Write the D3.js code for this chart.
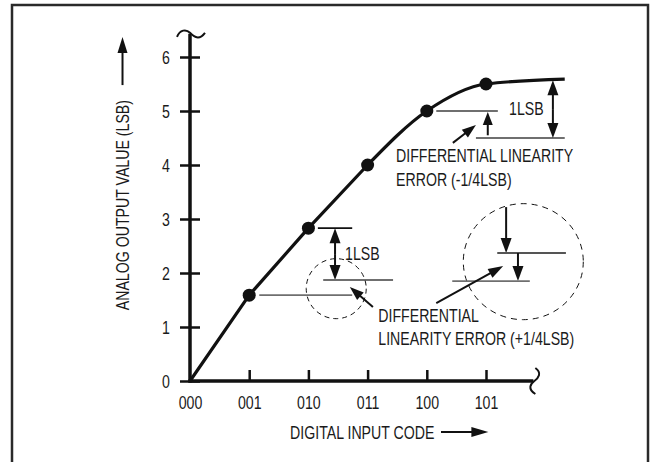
<!DOCTYPE html>
<html><head><meta charset="utf-8">
<script src="https://cdn.jsdelivr.net/npm/d3@7"></script>
<style>
html,body{margin:0;padding:0;background:#fff;}
svg text{font-family:"Liberation Sans",Arial,sans-serif;fill:#1a1a1a;}
</style></head>
<body>
<svg id="c" width="652" height="462"></svg>
<script>
// ---- data ----
const codes = ["000","001","010","011","100","101"];
const outputValues = [0, 1.59, 2.83, 4.0, 5.0, 5.5];
const tailPoint = [6.33, 5.59];
const yTicks = [0,1,2,3,4,5,6];
const xTitle = "DIGITAL INPUT CODE";
const yTitle = "ANALOG OUTPUT VALUE (LSB)";
const noteTop = ["DIFFERENTIAL LINEARITY", "ERROR (-1/4LSB)"];
const noteBottom = ["DIFFERENTIAL", "LINEARITY ERROR (+1/4LSB)"];
const lsbLabel = "1LSB";

const svg = d3.select("#c");
const x = d3.scaleLinear().domain([0,5]).range([190,486]);
const y = d3.scaleLinear().domain([0,6]).range([381,57]);
const FS = 19;
const SX = 0.745;
const ink = "#111";
const gray = "#6f6f6f";

// narrow text helper: place text at (px,py) with horizontal compression
function narrow(sel){
  sel.each(function(){
    const t = d3.select(this);
    const px = +t.attr("x")||0, py = +t.attr("y")||0;
    const prev = t.attr("transform")||"";
    t.attr("x",0).attr("y",0).attr("transform",`${prev} translate(${px},${py}) scale(${SX},1)`);
  });
}

// frame
svg.append("rect").attr("x",12).attr("y",5).attr("width",636).attr("height",470)
  .attr("fill","none").attr("stroke","#2a2a2a").attr("stroke-width",2.5);

// axes
const g = svg.append("g");
const axisTop = y(6.43), axisRight = x(5.8);
g.append("line").attr("x1",x(0)).attr("x2",x(0)).attr("y1",y(0)+1.5).attr("y2",axisTop)
  .attr("stroke",ink).attr("stroke-width",3.5);
g.append("line").attr("x1",x(0)-1.5).attr("x2",axisRight).attr("y1",y(0)).attr("y2",y(0))
  .attr("stroke",ink).attr("stroke-width",3.5);
g.append("path").attr("transform",`translate(${x(0)},${axisTop})`)
  .attr("d","M-13,3 C-10,-4 -4,-5 0,-1 S9,7 15,-1").attr("fill","none").attr("stroke",ink).attr("stroke-width",2);
g.append("path").attr("transform",`translate(${axisRight},${y(0)})`)
  .attr("d","M2,-13 C9,-8 5,-3 1,0 S-6,8 2,13").attr("fill","none").attr("stroke",ink).attr("stroke-width",2);

// y ticks (crossing)
const yAxis = d3.axisLeft(y).tickValues(yTicks).tickSize(0).tickPadding(20).tickFormat(d3.format("d"));
const ya = g.append("g").attr("transform",`translate(${x(0)},0)`).call(yAxis);
ya.select(".domain").remove();
ya.selectAll("text").attr("font-size",FS).style("font-family",null).attr("y",0).attr("dy","0.36em").call(narrow);
ya.selectAll(".tick").append("line").attr("x1",-10).attr("x2",10).attr("stroke",ink).attr("stroke-width",2.5);

// x ticks (above axis)
const xAxis = d3.axisBottom(x).tickValues(d3.range(codes.length)).tickSize(0).tickPadding(14)
  .tickFormat(i => codes[i]);
const xa = g.append("g").attr("transform",`translate(0,${y(0)})`).call(xAxis);
xa.select(".domain").remove();
xa.selectAll("text").attr("font-size",FS).style("font-family",null).call(narrow);
xa.selectAll(".tick").filter(d => d>0).append("line").attr("y1",0).attr("y2",-11).attr("stroke",ink).attr("stroke-width",2.5);

function arrow(sel, x1,y1,x2,y2, len, wid, sw, color){
  color = color || ink;
  const a = Math.atan2(y2-y1,x2-x1);
  const bx = x2 - len*Math.cos(a), by = y2 - len*Math.sin(a);
  sel.append("line").attr("x1",x1).attr("y1",y1).attr("x2",bx+Math.cos(a)).attr("y2",by+Math.sin(a))
    .attr("stroke",color).attr("stroke-width",sw||2);
  const px = -Math.sin(a)*wid/2, py = Math.cos(a)*wid/2;
  sel.append("path").attr("d",`M${x2},${y2}L${bx+px},${by+py}L${bx-px},${by-py}Z`).attr("fill",color);
}
function dbl(sel, x0, y1, y2, len, wid){
  const m = (y1+y2)/2;
  arrow(sel, x0, m, x0, y1, len, wid, 2);
  arrow(sel, x0, m, x0, y2, len, wid, 2);
}

// titles
svg.append("text").attr("x",x(1.69)).attr("y",y(0)+51).attr("dy","0.35em").attr("font-size",FS).text(xTitle).call(narrow);
arrow(svg, x(4.24), y(0)+51, x(5.04), y(0)+51, 17, 10, 2);
svg.append("text").attr("transform",`translate(${x(-1.14)+6.5},${y(1.31)}) rotate(-90)`)
  .attr("font-size",FS).text(yTitle).call(narrow);
arrow(svg, x(-1.14), y(5.48), x(-1.14), y(6.37), 16, 10, 2);

// curve: straight part then smooth shoulder
const pts = outputValues.map((v,i)=>[i,v]).concat([tailPoint]);
const lin = d3.line().x(d=>x(d[0])).y(d=>y(d[1]));
const smooth = d3.line().x(d=>x(d[0])).y(d=>y(d[1])).curve(d3.curveMonotoneX);
svg.append("path").attr("d",lin(pts.slice(0,4))).attr("fill","none").attr("stroke",ink).attr("stroke-width",3.2).attr("stroke-linejoin","round");
svg.append("path").attr("d",smooth(pts.slice(3))).attr("fill","none").attr("stroke",ink).attr("stroke-width",3.2);
svg.selectAll("circle.pt").data(outputValues.slice(1)).enter().append("circle")
  .attr("class","pt").attr("cx",(d,i)=>x(i+1)).attr("cy",d=>y(d)).attr("r",6.5).attr("fill",ink);

// ---- annotations ----
const an = svg.append("g");
function hl(u1,u2,v,color,sw){
  an.append("line").attr("x1",x(u1)).attr("x2",x(u2)).attr("y1",y(v)).attr("y2",y(v))
    .attr("stroke",color).attr("stroke-width",sw||1.8);
}
function label(u,v,t){
  an.append("text").attr("x",x(u)).attr("y",v).attr("dy","0.35em").attr("font-size",FS).text(t).call(narrow);
}
// upper
hl(4.16,5.2,5.0,gray);
hl(4.83,6.33,4.5,gray);
dbl(an, x(6.13), y(5.57), y(4.5), 15, 11);
arrow(an, x(5.03), y(4.55), x(5.03), y(4.98), 13, 10, 2);
arrow(an, x(4.44), y(4.41), x(4.83), y(4.74), 14, 10, 2);
label(5.39, y(5.05), lsbLabel);
noteTop.forEach((t,i)=>label(3.48, y(4.17)+24*i, t));

// middle
hl(2.16,2.74,2.83,ink,1.8);
dbl(an, x(2.45), y(2.83), y(1.87), 15, 11);
hl(2.25,3.43,1.87,gray);
hl(1.17,2.74,1.59,gray);
an.append("circle").attr("cx",x(2.47)).attr("cy",y(1.71)).attr("r",30)
  .attr("fill","none").attr("stroke",ink).attr("stroke-width",1).attr("stroke-dasharray","5,4");
arrow(an, x(3.09), y(1.37), x(2.70), y(1.74), 14, 10, 2);
label(2.62, y(2.37), lsbLabel);
noteBottom.forEach((t,i)=>label(3.18, y(1.22)+23*i, t));

// right circle
an.append("ellipse").attr("cx",x(5.63)).attr("cy",y(2.21)).attr("rx",60).attr("ry",58)
  .attr("fill","none").attr("stroke",ink).attr("stroke-width",1).attr("stroke-dasharray","6,5");
arrow(an, x(5.34), y(3.22), x(5.34), y(2.37), 15, 11, 2);
hl(5.19,6.35,2.37,"#555");
arrow(an, x(5.54), y(2.37), x(5.54), y(1.85), 15, 11, 2);
hl(4.43,5.74,1.85,gray);
arrow(an, x(4.16), y(1.44), x(5.29), y(2.13), 15, 10, 2);
</script>
</body></html>
